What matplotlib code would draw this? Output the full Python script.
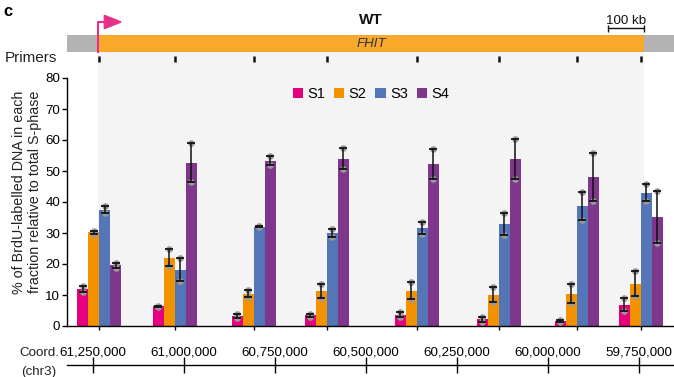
import matplotlib
matplotlib.use("Agg")
import matplotlib.pyplot as plt
from matplotlib.patches import Rectangle
import numpy as np

plt.rcParams['font.family'] = ['Liberation Sans', 'DejaVu Sans']

# ---------------- data ----------------
series_names = ["S1", "S2", "S3", "S4"]
series_colors = ["#E5007D", "#F39200", "#5475B8", "#7F378B"]
primer_coords = [61234000, 61026000, 60809000, 60608000, 60361000, 60136000, 59921000, 59745000]
s1 = [12.0, 6.3, 3.3, 3.4, 3.6, 2.1, 1.7, 6.9]
s1_err = [1.0, 0.3, 0.6, 0.4, 0.8, 0.7, 0.3, 2.0]
s2 = [30.2, 22.0, 10.4, 11.3, 11.4, 10.1, 10.4, 13.7]
s2_err = [0.5, 2.8, 1.1, 2.2, 2.7, 2.5, 3.1, 3.9]
s3 = [37.5, 18.1, 32.0, 30.0, 31.6, 32.9, 38.8, 43.0]
s3_err = [1.1, 3.7, 0.2, 1.3, 1.9, 3.7, 4.5, 2.7]
s4 = [19.6, 52.7, 53.3, 54.0, 52.3, 53.9, 48.0, 35.2]
s4_err = [0.8, 6.4, 1.4, 3.3, 4.8, 6.4, 7.7, 8.4]
values = [s1, s2, s3, s4]
errors = [s1_err, s2_err, s3_err, s4_err]
gene_start = 61237133
gene_end = 59735036
coord_ticks = [61250000, 61000000, 60750000, 60500000, 60250000, 60000000, 59750000]
coord_labels = ["61,250,000", "61,000,000", "60,750,000", "60,500,000",
                "60,250,000", "60,000,000", "59,750,000"]
y_ticks = [0, 10, 20, 30, 40, 50, 60, 70, 80]

# ---------------- layout helpers ----------------
W, H = 674, 377
BP_PER_PX = 2749.0
x_left = 61250000 + (93.3 - 67) * BP_PER_PX
x_right = 61250000 - (674 - 93.3) * BP_PER_PX
bar_w = 11 * BP_PER_PX

fig = plt.figure(figsize=(W / 100, H / 100), dpi=100)

def rect(l, t, r, b):
    return [l / W, 1 - b / H, (r - l) / W, (b - t) / H]

LIGHT = "#F4F4F4"
FS = 9.6

# ---------------- main axes ----------------
ax = fig.add_axes(rect(67, 78, 674, 326))
ax.set_xlim(x_left, x_right)
ax.set_ylim(0, 80)
ax.axvspan(gene_start, gene_end, color=LIGHT, zorder=0, lw=0)

pc = np.array(primer_coords, dtype=float)
offsets = [1.5, 0.5, -0.5, -1.5]
for vals, errs, col, off, name in zip(values, errors, series_colors, offsets, series_names):
    xs = pc + off * bar_w
    ax.bar(xs, vals, width=bar_w, color=col, zorder=2, label=name, lw=0)
    v = np.array(vals); e = np.array(errs)
    ax.plot(np.r_[xs, xs], np.r_[v + e, v - e], 'o', ms=4.8, color="#999999", zorder=3, mew=0)
    ax.errorbar(xs, v, yerr=e, fmt='none', ecolor="#111111", elinewidth=1.1,
                capsize=3.2, capthick=1.3, zorder=4)

for s in ["top", "right"]:
    ax.spines[s].set_visible(False)
ax.spines["left"].set_bounds(0, 80)
ax.spines["left"].set_linewidth(1.0)
ax.spines["bottom"].set_linewidth(1.0)
ax.set_yticks(y_ticks)
ax.set_yticklabels([str(t) for t in y_ticks], fontsize=FS)
ax.set_xticks(primer_coords)
ax.set_xticklabels([])
ax.tick_params(axis='y', length=3.5, width=1.0, pad=1.5)
ax.tick_params(axis='x', length=3, width=1.0)

leg = ax.legend(loc='center', bbox_to_anchor=(371 / W, 1 - 94 / H), bbox_transform=fig.transFigure,
                ncol=4, frameon=False, fontsize=10.5, handlelength=0.7, handleheight=0.7,
                handletextpad=0.3, columnspacing=0.6, borderaxespad=0)

fig.text(27 / W, 1 - 192 / H,
         "% of BrdU-labelled DNA in each\nfraction relative to total S-phase",
         rotation=90, ha='center', va='center', fontsize=10.3, linespacing=1.1, color="#222222")

# ---------------- top track axes ----------------
tx = fig.add_axes(rect(67, 0, 674, 78))
tx.set_xlim(x_left, x_right)
tx.set_ylim(78, 0)
tx.axis('off')
tx.add_patch(Rectangle((gene_start, 52), gene_end - gene_start, 26.5, color=LIGHT, lw=0, zorder=0))
tx.axhspan(35, 52, color="#B3B3B3", lw=0, zorder=1)
tx.add_patch(Rectangle((gene_start, 35), gene_end - gene_start, 17, color="#F8A82B", lw=0, zorder=2))
tx.text((gene_start + gene_end) / 2, 44, "FHIT", style='italic', ha='center', va='center',
        fontsize=FS, color="#333333", zorder=3)
tx.vlines(primer_coords, 56, 61.5, color="#111111", lw=1.8, zorder=3)
# promoter arrow
ax_col = "#E8308A"
tx.plot([gene_start, gene_start, gene_start - 10 * BP_PER_PX], [52.5, 22, 22],
        color=ax_col, lw=1.5, zorder=4, solid_capstyle='butt')
tx.annotate('', xy=(gene_start - 25 * BP_PER_PX, 22), xytext=(gene_start - 8 * BP_PER_PX, 22),
            arrowprops=dict(arrowstyle='-|>,head_length=0.8,head_width=0.32', color=ax_col,
                            lw=1.5, mutation_scale=14, shrinkA=0, shrinkB=0), zorder=4)
# scale bar
sb_r = gene_end
sb_l = gene_end + 100000
tx.hlines(28, sb_l, sb_r, color="#111111", lw=1.0)
tx.vlines([sb_l, sb_r], 24.5, 31.5, color="#111111", lw=1.0)
tx.text((sb_l + sb_r) / 2, 27, "100 kb", ha='center', va='bottom', fontsize=FS, color="#111111")
tx.text((gene_start + gene_end) / 2, 20, "WT", ha='center', va='center', fontsize=11,
        fontweight='bold', color="#111111")

fig.text(3 / W, 1 - 12 / H, "c", fontsize=12, fontweight='bold', ha='left', va='center')
fig.text(5 / W, 1 - 58 / H, "Primers", fontsize=11, ha='left', va='center', color="#222222")

# ---------------- coordinate axis ----------------
cx = fig.add_axes(rect(67, 364.5, 674, 365))
cx.set_xlim(x_left, x_right)
cx.set_ylim(0, 1)
for s in ["top", "right", "left"]:
    cx.spines[s].set_visible(False)
cx.spines["bottom"].set_linewidth(1.0)
cx.patch.set_visible(False)
cx.set_yticks([])
cx.set_xticks(coord_ticks)
cx.set_xticklabels(coord_labels, fontsize=FS)
cx.tick_params(axis='x', direction='inout', length=12, width=1.0, top=False, bottom=True,
               labeltop=True, labelbottom=False, pad=-2)
fig.text(39 / W, 1 - 353 / H, "Coord.", fontsize=FS, ha='center', va='center', color="#222222")
fig.text(39 / W, 1 - 372 / H, "(chr3)", fontsize=FS, ha='center', va='center', color="#222222")

fig.savefig("out.png", dpi=100)
